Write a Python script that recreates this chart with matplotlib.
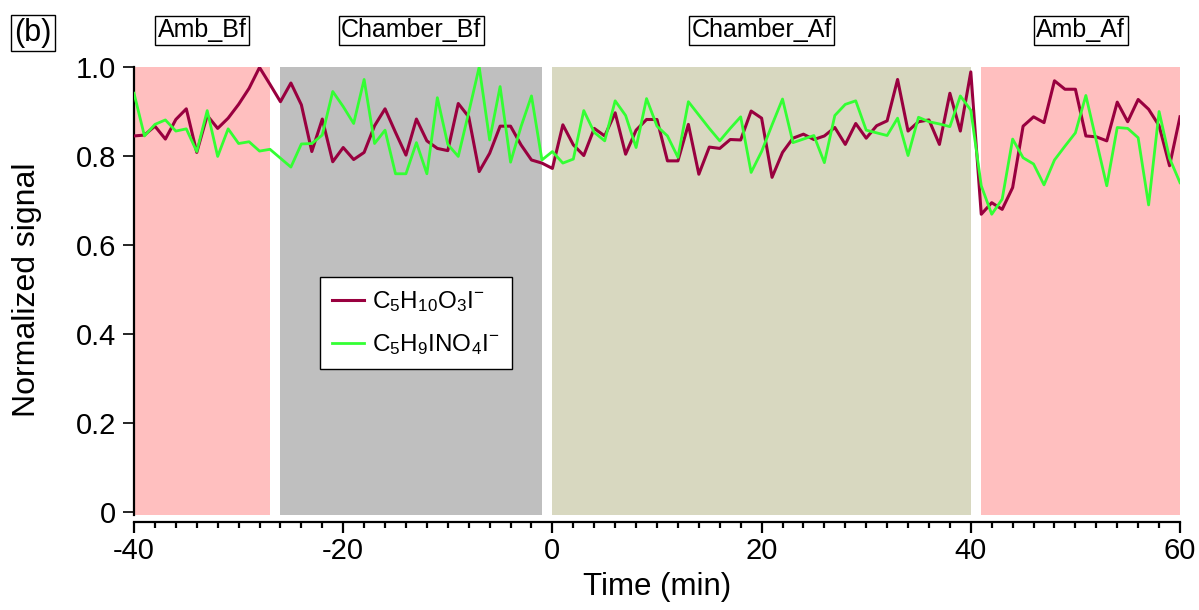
import matplotlib
matplotlib.use("Agg")
import matplotlib.pyplot as plt
from matplotlib.ticker import MultipleLocator

plt.rcParams['font.family'] = ['Liberation Sans', 'DejaVu Sans']
plt.rcParams['mathtext.fontset'] = 'custom'
plt.rcParams['mathtext.rm'] = 'Liberation Sans'
plt.rcParams['mathtext.it'] = 'Liberation Sans'
plt.rcParams['axes.unicode_minus'] = False

time_min = list(range(-40, 61))

c5h10o3i = [0.845, 0.847, 0.867, 0.838, 0.882, 0.906, 0.808, 0.891, 0.862, 0.885,
            0.916, 0.952, 0.999, 0.961, 0.922, 0.964, 0.915, 0.810, 0.883, 0.787,
            0.819, 0.792, 0.808, 0.868, 0.906, 0.853, 0.802, 0.883, 0.834, 0.817,
            0.812, 0.918, 0.888, 0.765, 0.806, 0.867, 0.867, 0.825, 0.791, 0.784,
            0.772, 0.870, 0.825, 0.801, 0.862, 0.845, 0.897, 0.804, 0.858, 0.882,
            0.882, 0.789, 0.789, 0.871, 0.759, 0.820, 0.817, 0.837, 0.836, 0.901,
            0.885, 0.752, 0.808, 0.840, 0.849, 0.837, 0.845, 0.864, 0.826, 0.873,
            0.840, 0.868, 0.879, 0.972, 0.856, 0.877, 0.881, 0.826, 0.941, 0.856,
            0.989, 0.669, 0.695, 0.680, 0.729, 0.867, 0.888, 0.875, 0.969, 0.950,
            0.950, 0.845, 0.843, 0.834, 0.921, 0.877, 0.927, 0.905, 0.868, 0.778,
            0.888]

c5h9ino4i = [0.941, 0.845, 0.871, 0.881, 0.856, 0.861, 0.810, 0.902, 0.799, 0.861,
             0.828, 0.832, 0.811, 0.815, 0.795, 0.775, 0.827, 0.828, 0.847, 0.945,
             0.911, 0.873, 0.972, 0.828, 0.858, 0.760, 0.760, 0.830, 0.760, 0.931,
             0.826, 0.799, 0.898, 1.000, 0.836, 0.956, 0.786, 0.866, 0.935, 0.791,
             0.810, 0.784, 0.793, 0.902, 0.853, 0.834, 0.924, 0.891, 0.819, 0.929,
             0.867, 0.845, 0.797, 0.922, 0.892, 0.862, 0.834, 0.862, 0.888, 0.763,
             0.810, 0.870, 0.928, 0.830, 0.838, 0.846, 0.785, 0.891, 0.916, 0.924,
             0.858, 0.852, 0.846, 0.885, 0.801, 0.887, 0.877, 0.872, 0.866, 0.935,
             0.903, 0.733, 0.669, 0.703, 0.838, 0.796, 0.782, 0.735, 0.791, 0.822,
             0.852, 0.936, 0.834, 0.733, 0.864, 0.862, 0.841, 0.690, 0.900, 0.795,
             0.740]

period_labels = ['Amb_Bf', 'Chamber_Bf', 'Chamber_Af', 'Amb_Af']
period_starts = [-40, -26, 0, 41]
period_ends = [-27, -1, 40, 60]
period_colors = ['#FFBFBF', '#BFBFBF', '#D8D8C0', '#FFBFBF']

fig = plt.figure(figsize=(11.99, 6.10), dpi=100)
ax = fig.add_axes([134/1199, 1-515/610, (1180-134)/1199, (515-67)/610])

for s, e, c, lab in zip(period_starts, period_ends, period_colors, period_labels):
    ax.axvspan(s, e, color=c, lw=0, zorder=0)
    ax.text((s + e) / 2, 1.0 + 37/448, lab, transform=ax.get_xaxis_transform(),
            ha='center', va='center', fontsize=18,
            bbox=dict(boxstyle='square,pad=0.1', fc='white', ec='black', lw=1))

ax.plot(time_min, c5h10o3i, color='#99003F', lw=2.2,
        label=r'C$_5$H$_{10}$O$_3$I$^{-}$', zorder=3)
ax.plot(time_min, c5h9ino4i, color='#33FF33', lw=2.0,
        label=r'C$_5$H$_9$INO$_4$I$^{-}$', zorder=3)

ax.set_xlim(-40, 60)
ax.set_ylim(-0.007, 1.0)
ax.xaxis.set_major_locator(MultipleLocator(20))
ax.xaxis.set_minor_locator(MultipleLocator(2))
ax.set_yticks([0, 0.2, 0.4, 0.6, 0.8, 1.0])
ax.set_yticklabels(['0', '0.2', '0.4', '0.6', '0.8', '1.0'])

for sp in ['top', 'right']:
    ax.spines[sp].set_visible(False)
ax.spines['bottom'].set_position(('outward', 5))
ax.spines['bottom'].set_linewidth(1.6)
ax.spines['left'].set_linewidth(1.6)
ax.tick_params(axis='x', which='major', length=8, width=1.6, direction='out',
               labelsize=21, pad=3)
ax.tick_params(axis='x', which='minor', length=4, width=1.6, direction='out')
ax.tick_params(axis='y', which='major', length=8, width=1.2, direction='out',
               labelsize=21, pad=5)

ax.set_xlabel('Time (min)', fontsize=22.5)
ax.xaxis.set_label_coords(0.5, -0.128)
ax.set_ylabel('Normalized signal', fontsize=23)
ax.yaxis.set_label_coords(-0.088, 0.503)

leg = ax.legend(loc='upper left', bbox_to_anchor=(0.178, 0.531), fontsize=17.5,
                frameon=True, fancybox=False, edgecolor='black', framealpha=1,
                handlelength=1.3, borderpad=0.5, labelspacing=0.75,
                handletextpad=0.35, borderaxespad=0)
leg.get_frame().set_linewidth(1.0)

fig.text(33/1199, 1-33/610, '(b)', fontsize=22, ha='center', va='center',
         bbox=dict(boxstyle='square,pad=0.1', fc='white', ec='black', lw=1))

fig.savefig('out.png', dpi=100)
